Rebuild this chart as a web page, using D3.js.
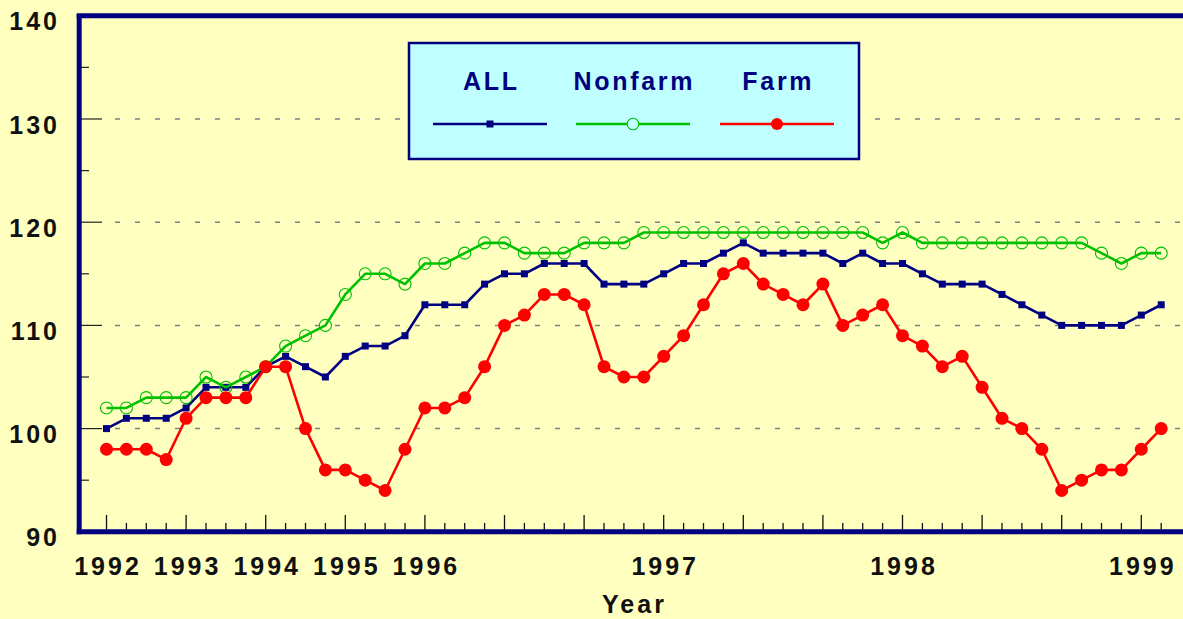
<!DOCTYPE html>
<html><head><meta charset="utf-8">
<script src="https://cdn.jsdelivr.net/npm/d3@7"></script>
<style>
body{margin:0;background:#FFFFC0;overflow:hidden}
text{font-family:"Liberation Sans",Arial,sans-serif;font-weight:bold}
</style>
</head><body>
<svg id="c" width="1183" height="619"></svg>
<script>
const periods = [
  "1992Q1","1992Q2","1992Q3","1992Q4",
  "1993Q1","1993Q2","1993Q3","1993Q4",
  "1994Q1","1994Q2","1994Q3","1994Q4",
  "1995Q1","1995Q2","1995Q3","1995Q4",
  "1996-01","1996-02","1996-03","1996-04","1996-05","1996-06","1996-07","1996-08","1996-09","1996-10","1996-11","1996-12",
  "1997-01","1997-02","1997-03","1997-04","1997-05","1997-06","1997-07","1997-08","1997-09","1997-10","1997-11","1997-12",
  "1998-01","1998-02","1998-03","1998-04","1998-05","1998-06","1998-07","1998-08","1998-09","1998-10","1998-11","1998-12",
  "1999-01","1999-02"
];
const allValues = [
  100,101,101,101, 102,104,104,104, 106,107,106,105, 107,108,108,109,
  112,112,112,114,115,115,116,116,116,114,114,114,
  115,116,116,117,118,117,117,117,117,116,117,116,
  116,115,114,114,114,113,112,111,110,110,110,110,
  111,112
];
const nonfarmValues = [
  102,102,103,103, 103,105,104,105, 106,108,109,110, 113,115,115,114,
  116,116,117,118,118,117,117,117,118,118,118,119,
  119,119,119,119,119,119,119,119,119,119,119,118,
  119,118,118,118,118,118,118,118,118,118,117,116,
  117,117
];
const farmValues = [
  98,98,98,97, 101,103,103,103, 106,106,100,96, 96,95,94,98,
  102,102,103,106,110,111,113,113,112,106,105,105,
  107,109,112,115,116,114,113,112,114,110,111,112,
  109,108,106,107,104,101,100,98,94,95,96,96,
  98,100
];
const yearTickPeriods = ["1992Q1","1993Q1","1994Q1","1995Q1","1996-01","1997-01","1998-01","1999-01"];
const yearTickLabels  = ["1992","1993","1994","1995","1996","1997","1998","1999"];
const yTickValues = [90,100,110,120,130,140];
const yMinorValues = [95,105,115,125,135];
const gridValues = [100,110,120,130];
const seriesNames = ["ALL","Nonfarm","Farm"];

const svg = d3.select("#c");
const NAVY = "#000080", GREEN = "#00C000", RED = "#FF0000";
const x = d3.scalePoint().domain(periods).range([106.5, 1161.2]);
const y = d3.scaleLinear().domain([90, 140]).range([531.8, 15.8]);
const LS = 3;

// gridlines
svg.append("g").selectAll("line").data(gridValues).join("line")
  .attr("x1", 115).attr("x2", 1183)
  .attr("y1", d => y(d)).attr("y2", d => y(d))
  .attr("stroke", "#808080").attr("stroke-width", 1.5)
  .attr("stroke-dasharray", "5,15");

// y ticks
svg.append("g").selectAll("line").data(yTickValues).join("line")
  .attr("x1", 81).attr("x2", 102)
  .attr("y1", d => y(d)).attr("y2", d => y(d))
  .attr("stroke", "#222").attr("stroke-width", 1.2);
svg.append("g").selectAll("line").data(yMinorValues).join("line")
  .attr("x1", 81).attr("x2", 89)
  .attr("y1", d => y(d)).attr("y2", d => y(d))
  .attr("stroke", "#222").attr("stroke-width", 1.2);

// y labels
svg.append("g").selectAll("text").data(yTickValues).join("text")
  .attr("x", 57 + LS).attr("y", d => y(d) + 14.5)
  .attr("text-anchor", "end")
  .attr("font-size", 25).attr("letter-spacing", LS)
  .attr("fill", "#111").text(d => d);

// x ticks
svg.append("g").selectAll("line").data(periods).join("line")
  .attr("x1", d => x(d)).attr("x2", d => x(d))
  .attr("y1", 530).attr("y2", (d, i) => i % 4 === 0 ? 515 : 523)
  .attr("stroke", "#111").attr("stroke-width", 1.3);

// x labels
svg.append("g").selectAll("text").data(yearTickPeriods).join("text")
  .attr("x", d => x(d) + LS / 2).attr("y", 575)
  .attr("text-anchor", "middle")
  .attr("font-size", 25).attr("letter-spacing", LS)
  .attr("fill", "#111").text((d, i) => yearTickLabels[i]);

svg.append("text").attr("x", 633 + LS / 2).attr("y", 613)
  .attr("text-anchor", "middle").attr("font-size", 25).attr("letter-spacing", LS)
  .attr("fill", "#111").text("Year");

// frame
svg.append("line").attr("x1", 79.2).attr("x2", 79.2).attr("y1", 14).attr("y2", 534.3)
  .attr("stroke", NAVY).attr("stroke-width", 5);
svg.append("line").attr("x1", 76.7).attr("x2", 1183).attr("y1", y(140)).attr("y2", y(140))
  .attr("stroke", NAVY).attr("stroke-width", 5);
svg.append("line").attr("x1", 76.7).attr("x2", 1183).attr("y1", y(90)).attr("y2", y(90))
  .attr("stroke", NAVY).attr("stroke-width", 5);

// series
const line = d3.line().x((d, i) => x(periods[i])).y(d => y(d));
function drawLine(vals, color) {
  svg.append("path").datum(vals).attr("d", line)
    .attr("fill", "none").attr("stroke", color).attr("stroke-width", 2.6)
    .attr("stroke-linejoin", "round");
}
drawLine(allValues, NAVY);
svg.append("g").selectAll("rect").data(allValues).join("rect")
  .attr("x", (d, i) => x(periods[i]) - 3.5).attr("y", d => y(d) - 3.5)
  .attr("width", 7).attr("height", 7).attr("fill", NAVY);

drawLine(nonfarmValues, GREEN);
svg.append("g").selectAll("circle").data(nonfarmValues).join("circle")
  .attr("cx", (d, i) => x(periods[i])).attr("cy", d => y(d)).attr("r", 6)
  .attr("fill", "none").attr("stroke", GREEN).attr("stroke-width", 1.1);

drawLine(farmValues, RED);
svg.append("g").selectAll("circle").data(farmValues).join("circle")
  .attr("cx", (d, i) => x(periods[i])).attr("cy", d => y(d)).attr("r", 6.5)
  .attr("fill", RED);

// legend
const lg = svg.append("g");
lg.append("rect").attr("x", 409).attr("y", 43).attr("width", 450).attr("height", 116)
  .attr("fill", "#C0FFFF").attr("stroke", NAVY).attr("stroke-width", 2.5);
const legendCenters = [490, 633, 777];
const legendColors = [NAVY, GREEN, RED];
seriesNames.forEach((name, i) => {
  const cx = legendCenters[i];
  lg.append("text").attr("x", cx + 1.3).attr("y", 90)
    .attr("text-anchor", "middle").attr("font-size", 25).attr("letter-spacing", 2.7)
    .attr("fill", NAVY).text(name);
  lg.append("line").attr("x1", cx - 57).attr("x2", cx + 57).attr("y1", 124).attr("y2", 124)
    .attr("stroke", legendColors[i]).attr("stroke-width", 2.6);
  if (i === 0) {
    lg.append("rect").attr("x", cx - 3.5).attr("y", 120.5).attr("width", 7).attr("height", 7).attr("fill", NAVY);
  } else if (i === 1) {
    lg.append("circle").attr("cx", cx).attr("cy", 124).attr("r", 5.8)
      .attr("fill", "#C0FFFF").attr("stroke", GREEN).attr("stroke-width", 1.1);
  } else {
    lg.append("circle").attr("cx", cx).attr("cy", 124).attr("r", 6).attr("fill", RED);
  }
});
</script>
</body></html>
